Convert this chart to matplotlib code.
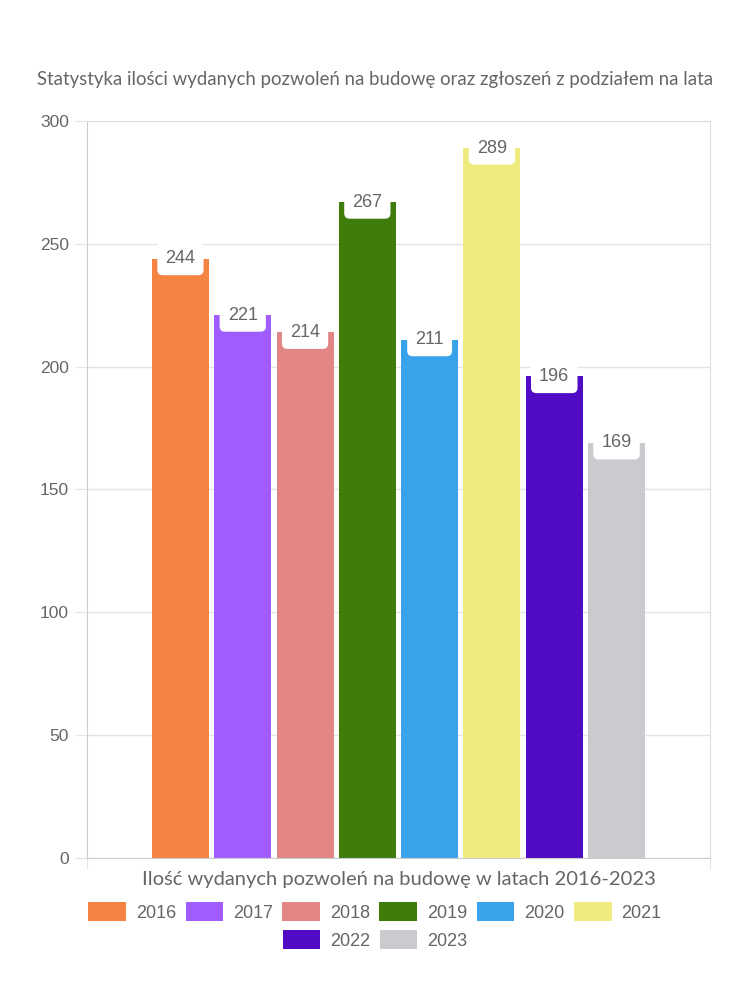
import matplotlib.pyplot as plt
from matplotlib.patches import Patch

years = ['2016', '2017', '2018', '2019', '2020', '2021', '2022', '2023']
values = [244, 221, 214, 267, 211, 289, 196, 169]
colors = ['#f58442', '#a05cff', '#e28585', '#3e7c0c', '#38a3eb',
          '#f0eb7e', '#520bc4', '#cacbcf']

title = 'Statystyka ilości wydanych pozwoleń na budowę oraz zgłoszeń z podziałem na lata'
xlabel = 'Ilość wydanych pozwoleń na budowę w latach 2016-2023'

plt.rcParams['font.family'] = ['Lato', 'DejaVu Sans']
txt = '#666666'
grid = '#e5e5e5'

fig = plt.figure(figsize=(7.5, 10), dpi=100)
ax = fig.add_axes([87 / 750, 1 - 858 / 1000, 623 / 750, 737 / 1000])

n = len(values)
slot = 0.8 / n
for i, (v, c) in enumerate(zip(values, colors)):
    x = -0.4 + slot * (i + 0.5)
    ax.bar(x, v, width=slot * 0.915, color=c, zorder=2)
    ax.text(x, v, str(v), ha='center', va='center', fontsize=13, color=txt,
            family=['Liberation Sans'], zorder=4,
            bbox=dict(boxstyle='round,pad=0.45,rounding_size=0.3',
                      fc='white', ec='none'))

ax.set_xlim(-0.5, 0.5)
ax.set_ylim(0, 300)
ax.set_yticks(range(0, 301, 50))
ax.set_xticks([-0.5, 0.5])
ax.set_xticklabels([])
ax.yaxis.grid(True, color=grid, lw=1, zorder=0)
for s in ax.spines.values():
    s.set_color('#dddddd')
ax.spines['left'].set_color('#cccccc')
ax.spines['bottom'].set_color('#cccccc')
ax.tick_params(axis='y', length=9, color=grid, labelcolor=txt, labelsize=12.5, pad=4)
ax.tick_params(axis='x', length=8, color=grid)
for lab in ax.get_yticklabels():
    lab.set_family(['Liberation Sans'])

fig.text(375 / 750, 1 - 80 / 1000, title, ha='center', va='center',
         fontsize=13.4, color=txt)
fig.text(399 / 750, 1 - 880 / 1000, xlabel, ha='center', va='center',
         fontsize=14.5, color=txt)

handles = [Patch(facecolor=c, edgecolor='none') for c in colors]
common = dict(frameon=False, handlelength=2.1, handleheight=1.2,
              handletextpad=0.55, columnspacing=0.5, borderaxespad=0,
              prop={'family': ['Liberation Sans'], 'size': 13}, labelcolor=txt)
fig.legend(handles[:6], years[:6], ncol=6, loc='center',
           bbox_to_anchor=(375 / 750, 1 - 912 / 1000), **common)
fig.legend(handles[6:], years[6:], ncol=2, loc='center',
           bbox_to_anchor=(375 / 750, 1 - 940 / 1000), **common)

fig.savefig('out.png', dpi=100)
